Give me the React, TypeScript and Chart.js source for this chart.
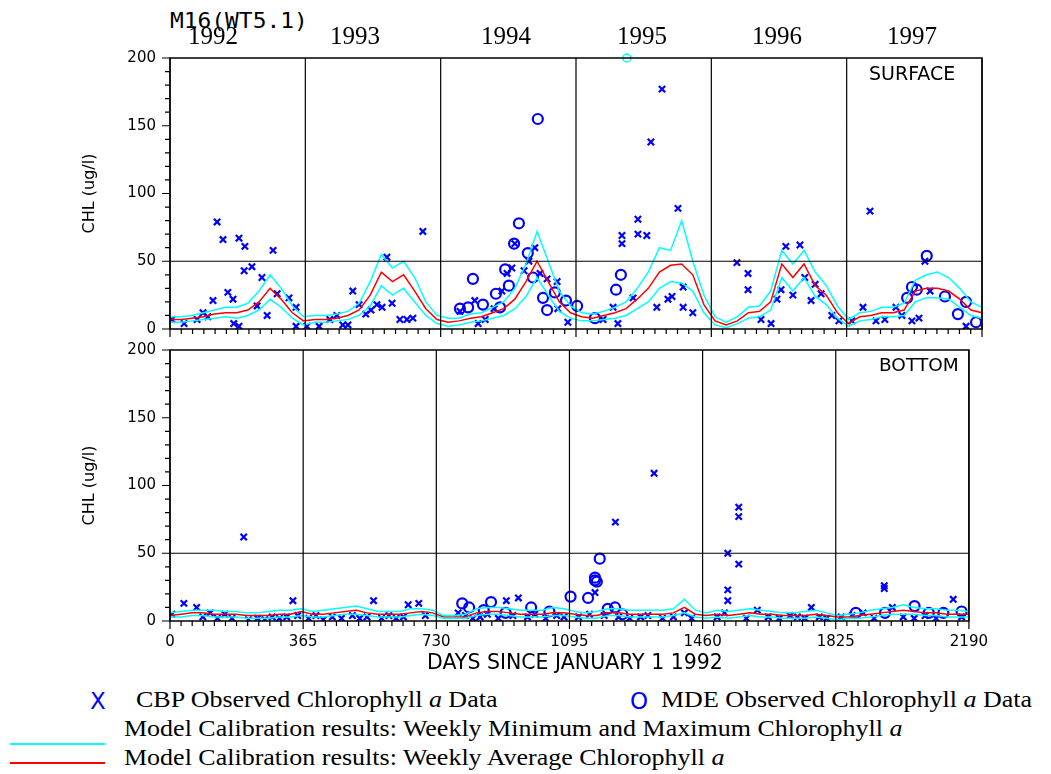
import React, { useEffect, useRef } from "react";
import { Chart, registerables } from "chart.js";
Chart.register(...registerables);

const modelDays: number[] = Array.from({ length: 74 }, (_, i) => i * 30);

const surfAvg = [7,7,8,9,11,12,12,14,20,30,22,12,6,
 7,7,8,10,14,25,42,35,40,28,15,7,
 5,6,8,9,12,15,22,35,50,35,20,12,
 9,8,10,12,15,22,30,42,47,48,40,18,
 6,3,6,12,13,20,48,38,48,32,25,12,
 4,9,10,12,12,14,28,30,30,28,22,14,12];
const surfMax = [9,9,10,12,14,16,16,19,28,40,30,17,9,
 10,10,11,13,19,35,55,45,50,38,20,10,
 8,8,11,12,16,20,30,48,72,50,28,17,
 12,11,13,16,20,30,42,60,58,80,50,25,
 9,5,9,16,17,28,58,48,58,42,32,17,
 7,12,13,16,16,19,36,40,42,38,30,20,16];
const surfMin = [5,5,6,7,8,9,8,10,14,22,16,8,3,
 5,5,6,7,10,17,32,25,30,20,10,4,
 2,3,5,6,8,10,15,24,38,25,13,8,
 6,6,7,8,10,15,20,30,35,34,28,12,
 3,1,4,8,9,14,38,28,38,24,18,8,
 2,6,7,9,9,10,20,23,23,22,16,10,8];

const botAvg = [4,5,6,6,5,5,5,4,4,4,5,5,7,
 5,5,6,7,8,6,5,5,5,6,7,6,
 3,3,3,6,7,7,6,5,5,5,6,6,
 5,4,4,6,6,5,5,5,5,6,10,5,
 4,5,4,5,6,5,5,4,4,4,5,4,
 3,3,4,5,6,7,8,7,6,6,5,5,5];
const botMax = [6,7,8,8,8,7,7,6,6,7,8,8,9,
 7,8,9,10,11,9,7,7,7,9,9,8,
 4,4,5,9,10,10,9,8,8,8,10,9,
 7,6,7,9,9,8,8,8,8,9,16,8,
 6,8,7,8,9,8,7,6,6,7,8,6,
 4,5,6,8,9,10,12,10,9,9,8,8,7];
const botMin = [3,3,4,4,3,3,3,2,2,2,3,3,4,
 3,3,4,5,5,4,3,3,3,4,5,4,
 2,2,2,4,5,5,4,3,3,3,4,4,
 3,2,2,4,4,3,3,3,3,4,6,3,
 2,3,2,3,4,3,3,2,2,2,3,2,
 1,2,2,3,4,5,5,5,4,4,3,3,3];

const surfCbpDays = [5,38,73,89,102,116,127,143,156,170,172,186,186,202,200,221,235,248,262,278,289,321,340,340,369,402,431,450,466,480,493,510,528,542,558,572,585,599,620,639,655,682,
 782,822,831,850,874,895,909,922,930,955,968,984,998,1017,1044,1046,1073,
 1168,1208,1195,1219,1219,1262,1262,1286,1297,1327,1249,1313,1343,1354,1370,1384,1384,1410,
 1529,1559,1559,1594,1621,1637,1648,1661,1680,1699,1712,1729,1740,1756,1785,1804,
 1839,1888,1869,1904,1928,1958,1974,2001,2020,2036,2050,2147];
const surfCbpVals = [7,4,7,12,9,21,79,66,27,22,4,67,2,61,43,46,17,38,10,58,26,23,2,16,2,2,7,10,3,3,28,18,11,14,18,16,53,19,7,7,8,72,
 13,21,4,7,15,28,41,45,63,43,50,60,41,37,35,15,5,
 7,4,16,69,63,81,70,69,138,177,23,16,22,24,89,31,16,12,
 49,41,29,7,4,22,29,61,25,62,38,21,33,26,10,6,
 6,87,16,6,7,16,10,6,8,50,28,2];

const surfMdeDays = [817,941,992,928,965,904,914,879,890,844,804,782,979,1006,1017,1038,1068,1098,
 1146,1203,1216,2001,2014,1988,2041,2090,2125,2147,2174];
const surfMdeVals = [37,78,155,63,56,44,32,26,16,18,16,15,38,23,14,27,21,17,
 8,29,40,31,29,23,54,24,11,20,5];
const offDays = [1232];
const offVals = [200];

const botCbpDays = [5,38,73,90,110,130,150,170,202,215,240,260,280,300,320,337,350,380,400,420,445,470,500,520,540,558,580,600,620,640,653,682,700,
 790,810,830,850,870,900,922,940,955,980,1000,1030,1060,1080,
 1120,1150,1165,1190,1221,1230,1260,1290,1310,1327,1350,1380,1410,1430,
 1500,1520,1529,1529,1529,1559,1559,1559,1580,1610,1640,1670,1700,1720,1740,1758,1780,1800,
 1840,1870,1900,1930,1958,1958,1980,2010,2040,2070,2100,2147,2170];
const botCbpVals = [5,13,10,3,6,2,5,2,62,1,2,1,3,2,3,15,4,2,4,1,3,2,4,2,3,15,2,4,2,3,12,13,4,
 6,4,2,3,5,2,15,4,17,3,5,2,4,3,
 3,5,21,4,73,3,2,3,4,109,2,3,6,2,
 3,6,50,23,15,84,77,42,2,8,3,2,4,3,2,10,3,2,
 3,4,6,2,26,24,10,3,2,4,2,16,3];
const botMdeDays = [801,820,860,880,920,990,1040,1098,1146,1165,1165,1170,1178,1200,1220,1240,1880,1960,2041,2080,2120,2170];
const botMdeVals = [13,10,8,14,6,10,7,18,17,32,30,29,46,9,10,5,6,6,11,6,6,7];

const years = ["1992", "1993", "1994", "1995", "1996", "1997"];
const xTicks = [0, 365, 730, 1095, 1460, 1825, 2190];
const yTicks = [0, 50, 100, 150, 200];

const toXY = (d: number[], v: number[]) => d.map((x, i) => ({ x, y: v[i] }));

const framePlugin = {
  id: "frame",
  afterDatasetsDraw(chart: any) {
    const { ctx, chartArea: a, scales } = chart;
    const xs = scales.x, ys = scales.y;
    ctx.save();
    ctx.strokeStyle = "#000";
    ctx.lineWidth = 1.5;
    ctx.strokeRect(a.left, a.top, a.right - a.left, a.bottom - a.top);
    ctx.lineWidth = 1.2;
    ctx.beginPath();
    for (const t of xTicks) {
      const px = xs.getPixelForValue(t);
      ctx.moveTo(px, a.top); ctx.lineTo(px, a.bottom);
    }
    const py50 = ys.getPixelForValue(50);
    ctx.moveTo(a.left, py50); ctx.lineTo(a.right, py50);
    for (let v = 0; v <= 200; v += 10) {
      const py = ys.getPixelForValue(v);
      const len = v % 50 === 0 ? 8 : 5;
      ctx.moveTo(a.left - len, py); ctx.lineTo(a.left, py);
    }
    for (let k = 0; k <= 72; k++) {
      const px = xs.getPixelForValue(k * 365 / 12);
      const len = k % 12 === 0 ? 8 : 5;
      ctx.moveTo(px, a.bottom); ctx.lineTo(px, a.bottom + len);
    }
    ctx.stroke();
    ctx.restore();
  },
};

function makeConfig(avg: number[], mx: number[], mn: number[], cd: number[], cv: number[], md: number[], mv: number[], bottom: boolean, extra: boolean) {
  const datasets: any[] = [
    { type: "line", data: toXY(modelDays, mx), borderColor: "#00ffff", borderWidth: 1.5, pointRadius: 0 },
    { type: "line", data: toXY(modelDays, mn), borderColor: "#00ffff", borderWidth: 1.5, pointRadius: 0 },
    { type: "line", data: toXY(modelDays, avg), borderColor: "#ff0000", borderWidth: 1.5, pointRadius: 0 },
    { type: "scatter", data: toXY(cd, cv), pointStyle: "crossRot", pointRadius: 4.5, borderColor: "#0000ff", borderWidth: 2.2 },
    { type: "scatter", data: toXY(md, mv), pointStyle: "circle", pointRadius: 5, borderColor: "#0000ff", backgroundColor: "rgba(0,0,0,0)", borderWidth: 2.2 },
  ];
  if (extra) datasets.push({ type: "scatter", data: toXY(offDays, offVals), pointStyle: "circle", pointRadius: 4, borderColor: "#00ffff", backgroundColor: "rgba(0,0,0,0)", borderWidth: 1.5, clip: false });
  return {
    data: { datasets },
    plugins: [framePlugin],
    options: {
      animation: false, responsive: false,
      layout: { padding: { top: bottom ? 9 : 3, right: 18, bottom: 0, left: 0 } },
      plugins: { legend: { display: false }, tooltip: { enabled: false } },
      scales: {
        x: {
          type: "linear", min: 0, max: 2190, display: bottom,
          afterBuildTicks: (s: any) => { s.ticks = xTicks.map((v) => ({ value: v })); },
          afterFit: (s: any) => { if (bottom) s.height = 59; },
          grid: { display: false, drawTicks: false }, border: { display: false },
          ticks: { color: "#000", font: { family: "DejaVu Sans", size: 15 }, padding: 12, maxRotation: 0, callback: (v: any) => String(v) },
        },
        y: {
          min: 0, max: 200,
          afterBuildTicks: (s: any) => { s.ticks = yTicks.map((v) => ({ value: v })); },
          afterFit: (s: any) => { s.width = 90; },
          grid: { display: false, drawTicks: false }, border: { display: false },
          ticks: { color: "#000", font: { family: "DejaVu Sans", size: 15 }, padding: 14 },
          title: { display: true, text: "CHL (ug/l)", color: "#000", font: { family: "DejaVu Sans", size: 16 }, padding: 0 },
        },
      },
    },
  };
}

function Panel({ top, height, bottom }: { top: number; height: number; bottom: boolean }) {
  const ref = useRef<HTMLCanvasElement>(null);
  useEffect(() => {
    const cfg: any = bottom
      ? makeConfig(botAvg, botMax, botMin, botCbpDays, botCbpVals, botMdeDays, botMdeVals, true, false)
      : makeConfig(surfAvg, surfMax, surfMin, surfCbpDays, surfCbpVals, surfMdeDays, surfMdeVals, false, true);
    const c = new Chart(ref.current as HTMLCanvasElement, cfg);
    return () => c.destroy();
  }, []);
  return <canvas ref={ref} width={920} height={height} style={{ position: "absolute", left: 80, top, width: 920, height }} />;
}

const serif = "'Liberation Serif', 'Times New Roman', serif";
const sans = "'DejaVu Sans', sans-serif";
const mono = "'DejaVu Sans Mono', monospace";

const legText = (left: number, top: number, sx: number, content: React.ReactNode) => (
  <div style={{ position: "absolute", left, top, font: `23px ${serif}`, whiteSpace: "nowrap", transform: `scaleX(${sx})`, transformOrigin: "left top" }}>{content}</div>
);

export default function App() {
  const yearX = [213, 355, 506, 642, 777, 912];
  return (
    <div style={{ position: "absolute", left: 0, top: 0, width: 1051, height: 774, background: "#fff" }}>
      <Panel top={35} height={317} bottom={false} />
      <Panel top={327} height={353} bottom={true} />
      <div style={{ position: "absolute", left: 170, top: 8, font: `22px ${mono}`, transform: "scaleX(1.04)", transformOrigin: "left top" }}>M16(WT5.1)</div>
      {years.map((y, i) => (
        <div key={y} style={{ position: "absolute", left: yearX[i] - 40, width: 80, textAlign: "center", top: 22, font: `25px ${serif}` }}>{y}</div>
      ))}
      <div style={{ position: "absolute", left: 869, top: 62, font: `19px ${sans}` }}>SURFACE</div>
      <div style={{ position: "absolute", left: 879, top: 354, font: `18.5px ${sans}` }}>BOTTOM</div>
      <div style={{ position: "absolute", left: 427, top: 650, font: `20.5px ${sans}` }}>DAYS SINCE JANUARY 1 1992</div>
      <div style={{ position: "absolute", left: 90, top: 688, font: `23px ${sans}`, color: "#0000ff" }}>X</div>
      {legText(136, 687, 1.13, <>CBP Observed Chlorophyll <i>a</i> Data</>)}
      <div style={{ position: "absolute", left: 630, top: 688, font: `23px ${sans}`, color: "#0000ff" }}>O</div>
      {legText(661, 687, 1.13, <>MDE Observed Chlorophyll <i>a</i> Data</>)}
      <div style={{ position: "absolute", left: 10, top: 743, width: 95, height: 1.5, background: "#00ffff" }} />
      {legText(124, 716, 1.13, <>Model Calibration results: Weekly Minimum and Maximum Chlorophyll <i>a</i></>)}
      <div style={{ position: "absolute", left: 10, top: 762, width: 95, height: 1.5, background: "#ff0000" }} />
      {legText(124, 745, 1.13, <>Model Calibration results: Weekly Average Chlorophyll <i>a</i></>)}
    </div>
  );
}
